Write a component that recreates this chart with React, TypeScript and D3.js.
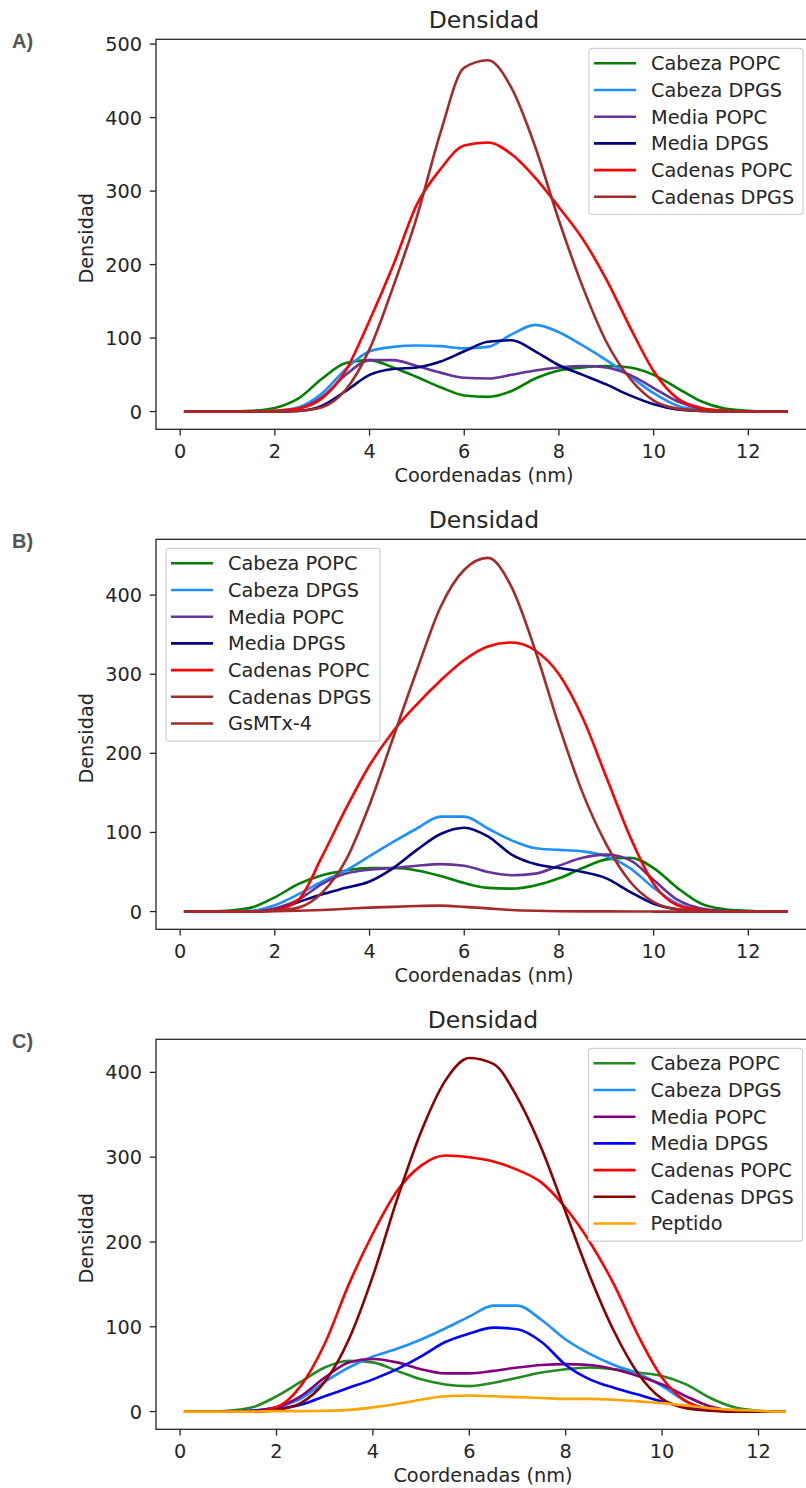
import React from "react";
import * as d3 from "d3";

// Sampling positions along the membrane normal (nm)
const X_AB = [0.08, 0.5, 1, 1.5, 2, 2.5, 3, 3.5, 4, 4.5, 5, 5.5, 6, 6.5, 7, 7.5, 8, 8.5, 9, 9.5, 10, 10.5, 11, 11.5, 12, 12.5, 12.83];
const X_C = [0.08, 0.5, 1, 1.5, 2, 2.5, 3, 3.5, 4, 4.5, 5, 5.5, 6, 6.5, 7, 7.5, 8, 8.5, 9, 9.5, 10, 10.5, 11, 11.5, 12, 12.3, 12.57];

const X_TICKS = [0, 2, 4, 6, 8, 10, 12];
const Y_TICKS_A = [0, 100, 200, 300, 400, 500];
const Y_TICKS_BC = [0, 100, 200, 300, 400];

// Panel A: pure membrane
const cabezaPOPC_A = [0, 0, 0, 1, 5, 18, 45, 66, 70, 60, 47, 33, 22, 20, 28, 45, 56, 60, 62, 60, 50, 32, 14, 4, 1, 0, 0];
const cabezaDPGS_A = [0, 0, 0, 0, 1, 6, 25, 58, 82, 88, 90, 89, 86, 88, 105, 118, 108, 90, 70, 48, 25, 8, 2, 0, 0, 0, 0];
const mediaPOPC_A = [0, 0, 0, 0, 0, 4, 20, 50, 70, 70, 62, 53, 46, 45, 50, 56, 60, 62, 60, 50, 32, 14, 4, 1, 0, 0, 0];
const mediaDPGS_A = [0, 0, 0, 0, 0, 1, 8, 28, 50, 58, 60, 68, 82, 95, 97, 82, 63, 50, 37, 22, 10, 3, 1, 0, 0, 0, 0];
const cadenasPOPC_A = [0, 0, 0, 0, 1, 4, 18, 56, 124, 199, 282, 330, 362, 366, 350, 318, 278, 235, 180, 115, 55, 18, 5, 1, 0, 0, 0];
const cadenasDPGS_A = [0, 0, 0, 0, 0, 1, 6, 30, 85, 170, 265, 380, 468, 478, 440, 360, 260, 170, 95, 45, 15, 4, 1, 0, 0, 0, 0];

// Panel B: membrane with GsMTx-4
const cabezaPOPC_B = [0, 0, 1, 5, 18, 35, 46, 52, 55, 55, 52, 45, 36, 30, 29, 33, 42, 55, 66, 68, 55, 30, 10, 3, 1, 0, 0];
const cabezaDPGS_B = [0, 0, 0, 1, 8, 22, 38, 52, 70, 88, 105, 120, 120, 105, 90, 80, 78, 76, 70, 55, 30, 10, 2, 0, 0, 0, 0];
const mediaPOPC_B = [0, 0, 0, 0, 4, 15, 35, 48, 53, 55, 58, 60, 58, 50, 46, 48, 58, 68, 72, 65, 40, 15, 4, 1, 0, 0, 0];
const mediaDPGS_B = [0, 0, 0, 0, 2, 12, 22, 30, 38, 55, 78, 98, 106, 95, 72, 60, 55, 50, 42, 25, 10, 3, 1, 0, 0, 0, 0];
const cadenasPOPC_B = [0, 0, 0, 0, 2, 15, 70, 130, 185, 228, 262, 292, 318, 335, 340, 330, 300, 245, 170, 95, 35, 8, 2, 0, 0, 0, 0];
const cadenasDPGS_B = [0, 0, 0, 0, 1, 5, 24, 65, 135, 220, 305, 385, 432, 447, 410, 330, 235, 150, 85, 38, 12, 3, 1, 0, 0, 0, 0];
const gsmtx4_B = [0, 0, 0, 0, 0.5, 1, 2, 3.5, 5, 6, 7, 7.5, 6, 4, 2, 1, 0.5, 0.3, 0.2, 0.1, 0, 0, 0, 0, 0, 0, 0];

// Panel C: membrane with peptide
const cabezaPOPC_C = [0, 0, 1, 5, 18, 35, 52, 60, 58, 48, 38, 32, 30, 34, 40, 46, 50, 52, 50, 46, 42, 32, 16, 5, 1, 0, 0];
const cabezaDPGS_C = [0, 0, 0, 1, 5, 15, 35, 52, 65, 74, 85, 98, 112, 125, 125, 108, 85, 68, 55, 45, 30, 12, 3, 1, 0, 0, 0];
const mediaPOPC_C = [0, 0, 0, 1, 5, 18, 40, 58, 62, 58, 50, 45, 45, 48, 52, 55, 56, 55, 50, 42, 32, 18, 6, 1, 0, 0, 0];
const mediaDPGS_C = [0, 0, 0, 1, 3, 8, 18, 28, 38, 50, 65, 82, 92, 99, 97, 82, 55, 38, 28, 20, 12, 5, 2, 0, 0, 0, 0];
const cadenasPOPC_C = [0, 0, 0, 0, 5, 30, 80, 150, 210, 260, 290, 302, 300, 295, 285, 270, 240, 200, 150, 90, 40, 12, 3, 1, 0, 0, 0];
const cadenasDPGS_C = [0, 0, 0, 0, 2, 10, 35, 85, 160, 250, 330, 390, 417, 410, 370, 310, 235, 160, 95, 45, 15, 4, 1, 0, 0, 0, 0];
const peptido_C = [0, 0, 0, 0, 0.5, 0.5, 1, 2, 5, 9, 14, 18, 19, 18, 17, 16, 15, 15, 14, 12, 10, 7, 4, 2, 1, 0, 0];

type Series = { name: string; color: string; values: number[] };

const seriesA: Series[] = [
  { name: "Cabeza POPC", color: "#008000", values: cabezaPOPC_A },
  { name: "Cabeza DPGS", color: "#1e90ff", values: cabezaDPGS_A },
  { name: "Media POPC", color: "#663399", values: mediaPOPC_A },
  { name: "Media DPGS", color: "#000080", values: mediaDPGS_A },
  { name: "Cadenas POPC", color: "#ff0000", values: cadenasPOPC_A },
  { name: "Cadenas DPGS", color: "#a52a2a", values: cadenasDPGS_A },
];

const seriesB: Series[] = [
  { name: "Cabeza POPC", color: "#008000", values: cabezaPOPC_B },
  { name: "Cabeza DPGS", color: "#1e90ff", values: cabezaDPGS_B },
  { name: "Media POPC", color: "#663399", values: mediaPOPC_B },
  { name: "Media DPGS", color: "#000080", values: mediaDPGS_B },
  { name: "Cadenas POPC", color: "#ff0000", values: cadenasPOPC_B },
  { name: "Cadenas DPGS", color: "#a52a2a", values: cadenasDPGS_B },
  { name: "GsMTx-4", color: "#a52a2a", values: gsmtx4_B },
];

const seriesC: Series[] = [
  { name: "Cabeza POPC", color: "#228b22", values: cabezaPOPC_C },
  { name: "Cabeza DPGS", color: "#1e90ff", values: cabezaDPGS_C },
  { name: "Media POPC", color: "#800080", values: mediaPOPC_C },
  { name: "Media DPGS", color: "#0000ff", values: mediaDPGS_C },
  { name: "Cadenas POPC", color: "#ff0000", values: cadenasPOPC_C },
  { name: "Cadenas DPGS", color: "#8b0000", values: cadenasDPGS_C },
  { name: "Peptido", color: "#ffa500", values: peptido_C },
];

const FONT = "'DejaVu Sans', Verdana, sans-serif";
const INK = "#262626";
const FS = 19.3;

type PanelProps = {
  letter: string;
  top: number;
  xs: number[];
  xlim: [number, number];
  pxPerUnit: number;
  ylim: [number, number];
  yTicks: number[];
  series: Series[];
  legendLeft: number;
  legendTop: number;
};

function Panel({ letter, top, xs, xlim, pxPerUnit, ylim, yTicks, series, legendLeft, legendTop }: PanelProps) {
  const left = 156;
  const height = 390;
  const right = left + (xlim[1] - xlim[0]) * pxPerUnit;
  const bottom = top + height;
  const x = d3.scaleLinear().domain(xlim).range([left, right]);
  const y = d3.scaleLinear().domain(ylim).range([bottom, top]);
  const line = d3
    .line<number>()
    .x((_, i) => x(xs[i]))
    .y((v) => y(v))
    .curve(d3.curveMonotoneX);
  const cx = (left + right) / 2 - 3;
  const rowH = 26.7;
  const boxH = series.length * rowH + 6;

  return (
    <g>
      <text x={12} y={top + 9} fontFamily="'Liberation Sans', Arial, sans-serif" fontWeight="bold" fontSize={20} fill="#555">
        {letter}
      </text>
      <text x={cx} y={top - 11} textAnchor="middle" fontFamily={FONT} fontSize={23.5} fill={INK}>
        Densidad
      </text>
      <defs>
        <clipPath id={`clip-${letter}`}>
          <rect x={left} y={top} width={right - left} height={height} />
        </clipPath>
      </defs>
      <g clipPath={`url(#clip-${letter})`}>
        {series.map((s) => (
          <path key={s.name} d={line(s.values) ?? ""} fill="none" stroke={s.color} strokeWidth={2.6} strokeLinejoin="round" />
        ))}
      </g>
      <rect x={left} y={top} width={right - left} height={height} fill="none" stroke={INK} strokeWidth={1.3} />
      {X_TICKS.map((t) => (
        <g key={`x${t}`}>
          <line x1={x(t)} x2={x(t)} y1={bottom} y2={bottom + 6.3} stroke={INK} strokeWidth={1.3} />
          <text x={x(t)} y={bottom + 29} textAnchor="middle" fontFamily={FONT} fontSize={FS} fill={INK}>
            {t}
          </text>
        </g>
      ))}
      {yTicks.map((t) => (
        <g key={`y${t}`}>
          <line x1={left - 6.3} x2={left} y1={y(t)} y2={y(t)} stroke={INK} strokeWidth={1.3} />
          <text x={left - 14} y={y(t)} dy="0.36em" textAnchor="end" fontFamily={FONT} fontSize={FS} fill={INK}>
            {t}
          </text>
        </g>
      ))}
      <text x={cx} y={bottom + 53} textAnchor="middle" fontFamily={FONT} fontSize={FS} fill={INK}>
        Coordenadas (nm)
      </text>
      <text
        transform={`translate(93, ${(top + bottom) / 2 + 4}) rotate(-90)`}
        textAnchor="middle"
        fontFamily={FONT}
        fontSize={FS}
        fill={INK}
      >
        Densidad
      </text>
      <g transform={`translate(${legendLeft}, ${legendTop})`}>
        <rect x={0} y={0} width={214} height={boxH} rx={3} fill="#fff" fillOpacity={0.8} stroke="#d0d0d0" strokeWidth={1.2} />
        {series.map((s, i) => (
          <g key={s.name} transform={`translate(0, ${15 + i * rowH})`}>
            <line x1={5} x2={47} y1={0} y2={0} stroke={s.color} strokeWidth={2.6} />
            <text x={62} y={0} dy="0.36em" fontFamily={FONT} fontSize={FS} fill={INK}>
              {s.name}
            </text>
          </g>
        ))}
      </g>
    </g>
  );
}

export default function App() {
  return (
    <svg
      width={806}
      height={1488}
      style={{ position: "absolute", left: 0, top: 0, background: "#fff" }}
    >
      <rect width={806} height={1488} fill="#fff" />
      <Panel
        letter="A)"
        top={39.3}
        xs={X_AB}
        xlim={[-0.51, 13.47]}
        pxPerUnit={47.35}
        ylim={[-24.1, 506.5]}
        yTicks={Y_TICKS_A}
        series={seriesA}
        legendLeft={589}
        legendTop={48.3}
      />
      <Panel
        letter="B)"
        top={539.3}
        xs={X_AB}
        xlim={[-0.51, 13.47]}
        pxPerUnit={47.35}
        ylim={[-22.4, 470.5]}
        yTicks={Y_TICKS_BC}
        series={seriesB}
        legendLeft={166}
        legendTop={548.3}
      />
      <Panel
        letter="C)"
        top={1039.3}
        xs={X_C}
        xlim={[-0.5, 13.19]}
        pxPerUnit={48.2}
        ylim={[-20.9, 439]}
        yTicks={Y_TICKS_BC}
        series={seriesC}
        legendLeft={588.5}
        legendTop={1048.3}
      />
    </svg>
  );
}
